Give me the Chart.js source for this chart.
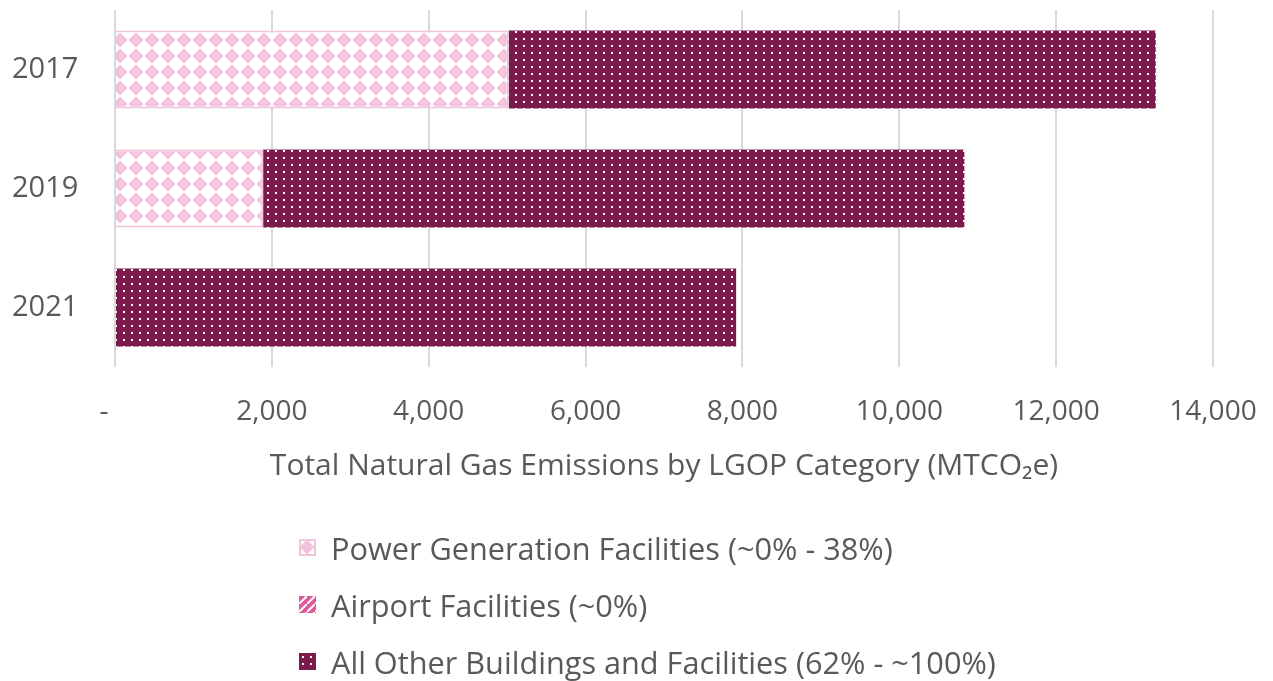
<!DOCTYPE html>
<html>
<head>
<meta charset="utf-8">
<script src="https://cdn.jsdelivr.net/npm/chart.js@4.4.1/dist/chart.umd.min.js"></script>
<style>
  body { margin: 0; background: #fff; font-family: "Open Sans", sans-serif; }
  #wrap { position: relative; width: 1273px; height: 681px; }
  #legend { position: absolute; left: 299px; top: 519px; color: #595959; font-size: 30.7px; }
  .item { display: flex; align-items: center; height: 57px; white-space: nowrap; }
  .item canvas { margin-right: 15px; }
</style>
</head>
<body>
<div id="wrap">
  <canvas id="chart" width="1273" height="490"></canvas>
  <div id="legend"></div>
</div>
<script>
// values (MTCO2e)
const years = ['2017', '2019', '2021'];
const powerGen = [5020, 1890, 0];
const airport = [0, 0, 0];
const otherBuildings = [8250, 8940, 7920];
const seriesNames = [
    'Power Generation Facilities (~0% - 38%)',
    'Airport Facilities (~0%)',
    'All Other Buildings and Facilities (62% - ~100%)'
];

// hatch-like fills similar to the office chart
function makePattern(draw, w, h) {
    const c = document.createElement('canvas');
    c.width = w; c.height = h;
    draw(c.getContext('2d'), w, h);
    return c.getContext('2d').createPattern(c, 'repeat');
}

const pinkPattern = makePattern((ctx, w, h) => {
    ctx.fillStyle = '#fff';
    ctx.fillRect(0, 0, w, h);
    ctx.fillStyle = '#f2c3dc';
    ctx.beginPath();
    ctx.moveTo(8, 0.5); ctx.lineTo(15.5, 8); ctx.lineTo(8, 15.5); ctx.lineTo(0.5, 8);
    ctx.closePath();
    ctx.fill();
}, 16, 16);

const airportPattern = makePattern((ctx, w, h) => {
    ctx.fillStyle = '#e0589b';
    ctx.fillRect(0, 0, w, h);
    ctx.strokeStyle = '#fff';
    ctx.lineWidth = 2;
    ctx.beginPath();
    ctx.moveTo(0, h); ctx.lineTo(w, 0);
    ctx.stroke();
}, 8, 8);

const maroonPattern = makePattern((ctx, w, h) => {
    ctx.fillStyle = '#7d1a4d';
    ctx.fillRect(0, 0, w, h);
    ctx.fillStyle = '#fff';
    ctx.fillRect(3, 3, 2, 2);
}, 8, 7);

const textColor = '#595959';
Chart.defaults.font.family = '"Open Sans", sans-serif';
Chart.defaults.color = textColor;

const chart = new Chart(document.getElementById('chart'), {
    type: 'bar',
    data: {
        labels: years,
        datasets: [
            { label: seriesNames[0], data: powerGen, backgroundColor: pinkPattern, borderColor: '#f2c3dc', borderWidth: 2 },
            { label: seriesNames[1], data: airport, backgroundColor: airportPattern, borderWidth: 0 },
            { label: seriesNames[2], data: otherBuildings, backgroundColor: maroonPattern, borderWidth: 0 }
        ]
    },
    options: {
        indexAxis: 'y',
        responsive: false,
        animation: false,
        barPercentage: 0.655,
        categoryPercentage: 1,
        layout: { padding: { left: 12, top: 10, right: 60, bottom: 6 } },
        plugins: {
            legend: { display: false },
            tooltip: { enabled: false }
        },
        scales: {
            x: {
                stacked: true,
                min: 0,
                max: 14000,
                ticks: {
                    stepSize: 2000,
                    padding: 28,
                    maxRotation: 0,
                    font: { size: 28 },
                    callback: v => v === 0 ? '-   ' : v.toLocaleString('en-US')
                },
                grid: { color: '#d9d9d9', lineWidth: 2, drawTicks: false },
                border: { display: false },
                title: {
                    display: true,
                    text: 'Total Natural Gas Emissions by LGOP Category (MTCO\u2082e)',
                    font: { size: 30 },
                    padding: { top: 0, bottom: 0 }
                },
                afterFit: s => { s.height = 117; s.paddingLeft = 0; s.paddingRight = 0; }
            },
            y: {
                stacked: true,
                ticks: { padding: 0, crossAlign: 'far', font: { size: 29 } },
                grid: { display: false },
                border: { display: false },
                afterFit: s => { s.width = 103; s.paddingTop = 0; s.paddingBottom = 0; }
            }
        }
    }
});

// legend stacked one item per row, built from the chart's datasets
const legend = document.getElementById('legend');
chart.data.datasets.forEach(ds => {
    const item = document.createElement('div');
    item.className = 'item';
    const box = document.createElement('canvas');
    box.width = 17; box.height = 17;
    const bctx = box.getContext('2d');
    bctx.fillStyle = ds.backgroundColor;
    bctx.fillRect(0, 0, 17, 17);
    if (ds.borderWidth) {
        bctx.strokeStyle = ds.borderColor;
        bctx.lineWidth = 2;
        bctx.strokeRect(1, 1, 15, 15);
    }
    const span = document.createElement('span');
    span.textContent = ds.label;
    item.appendChild(box);
    item.appendChild(span);
    legend.appendChild(item);
});
</script>
</body>
</html>
